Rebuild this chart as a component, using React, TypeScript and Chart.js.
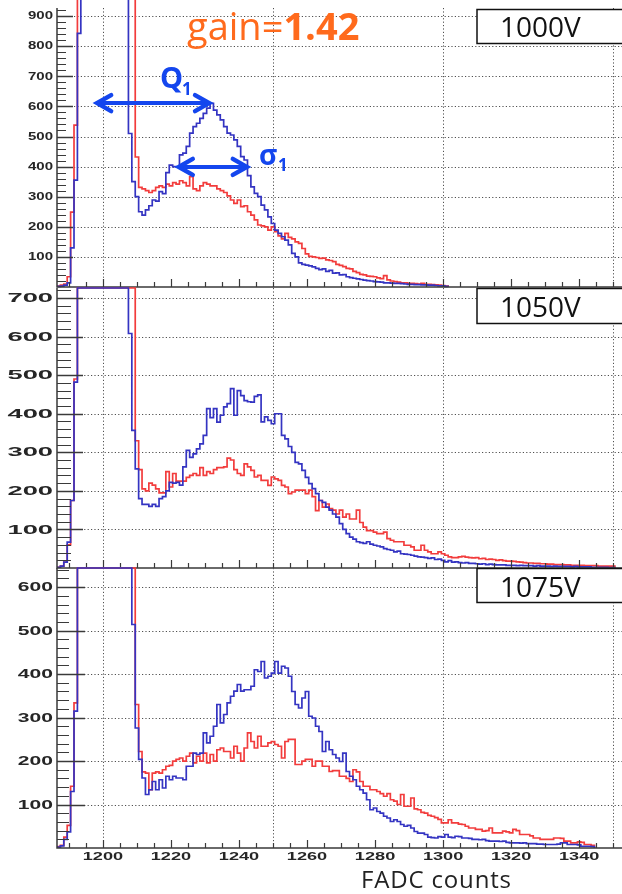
import React, { useEffect, useRef } from 'react';
import { Chart, registerables } from 'chart.js';

Chart.register(...registerables);

// ---------- data ----------
const BIN_START = 1187; // first FADC bin (1-count bins)
const X_MIN = 1186.5;
const X_MAX = 1352.6;
const X_GRID = [1200, 1250, 1300, 1350];
const X_TICK_LABELS = [1200, 1220, 1240, 1260, 1280, 1300, 1320, 1340];
const P = 3000; // pedestal bins, off scale

const PANEL_LABELS = ['1000V', '1050V', '1075V'];
const Y_LABELS_1000 = [100, 200, 300, 400, 500, 600, 700, 800, 900];
const Y_LABELS_1050 = [100, 200, 300, 400, 500, 600, 700];
const Y_LABELS_1075 = [100, 200, 300, 400, 500, 600];
const Y_MAX = [927, 726, 644];

const BLUE_1000 = [
  2, 3, 6, 14, 130, 355, 843,
  P, P, P, P, P, P, P, P, P, P, P, P, P, P,
  510, 350, 300, 250, 239, 256, 270, 289, 285, 317,
  310, 380, 405, 400, 399, 439, 445, 467, 511, 533,
  544, 560, 577, 594, 610, 588, 572, 555, 533, 511,
  505, 489, 467, 433, 422, 370, 333, 311, 300, 272,
  256, 233, 211, 189, 178, 167, 156, 140, 112, 100,
  80, 75, 73, 70, 67, 62, 58, 60, 52, 55,
  46, 47, 40, 41, 34, 31, 29, 27, 25, 23,
  21, 20, 18, 17, 16, 14, 14, 13, 12, 12,
  11, 10, 9, 9, 8, 8, 7, 7, 6, 6,
  5, 4, 4, 2,
];
const RED_1000 = [
  3, 6, 10, 34, 249, 538,
  P, P, P, P, P, P, P, P, P, P, P, P, P, P, P, P, P,
  432, 331, 326, 320, 314, 320, 331, 336, 331, 342,
  336, 347, 342, 353, 347, 336, 367, 326, 320, 336,
  347, 342, 336, 336, 326, 320, 314, 303, 289, 278,
  289, 267, 270, 250, 239, 223, 206, 203, 200, 189,
  200, 184, 170, 160, 178, 165, 160, 150, 145, 128,
  110, 102, 100, 98, 95, 96, 90, 88, 84, 75,
  72, 68, 62, 60, 52, 48, 42, 40, 36, 35,
  34, 30, 28, 38, 24, 20, 18, 16, 14, 14,
  12, 12, 11, 10, 12, 9, 9, 8, 7, 6,
  5, 3,
];
const BLUE_1050 = [
  2, 5, 15, 67, 175, 482,
  P, P, P, P, P, P, P, P, P, P, P, P, P, P, P,
  608, 357, 257, 180, 165, 165, 160, 165, 160, 180,
  185, 200, 222, 220, 222, 215, 262, 305, 287, 296,
  309, 322, 344, 413, 390, 413, 378, 396, 418, 426,
  465, 396, 460, 447, 434, 431, 430, 445, 449, 379,
  392, 383, 374, 400, 400, 344, 335, 315, 300, 274,
  270, 253, 235, 219, 206, 193, 175, 170, 158, 150,
  140, 132, 115, 100, 89, 80, 75, 68, 66, 64,
  68, 62, 59, 57, 55, 50, 48, 46, 42, 44,
  37, 36, 35, 33, 31, 29, 28, 27, 25, 26,
  22, 23, 20, 16, 19, 15, 16, 14, 13, 14,
  12, 12, 11, 10, 11, 9, 10, 9, 8, 8,
  8, 7, 7, 7, 6, 7, 6, 6, 6, 5,
  6, 5, 5, 5, 4, 5, 4, 4, 4, 4,
  3, 4, 3, 3, 3, 3, 2, 2, 2, 2,
  2, 1, 1,
];
const RED_1050 = [
  2, 5, 15, 60, 175, 490,
  P, P, P, P, P, P, P, P, P, P, P, P, P, P, P, P, P,
  330, 255, 205, 200, 220, 215, 205, 195, 195, 250,
  210, 245, 225, 225, 225, 235, 240, 245, 240, 260,
  240, 250, 245, 255, 260, 260, 262, 285, 280, 255,
  245, 240, 270, 262, 253, 236, 240, 227, 227, 214,
  236, 231, 227, 214, 210, 193, 197, 202, 202, 202,
  193, 202, 185, 149, 175, 158, 166, 154, 150, 140,
  150, 132, 140, 127, 127, 150, 118, 106, 97, 97,
  93, 89, 89, 93, 76, 72, 68, 68, 68, 59,
  59, 55, 46, 46, 59, 46, 42, 37, 37, 42,
  37, 33, 29, 27, 27, 29, 30, 28, 27, 26,
  27, 24, 25, 22, 23, 22, 20, 21, 19, 18,
  18, 17, 16, 15, 14, 13, 13, 12, 12, 11,
  11, 10, 10, 9, 9, 9, 8, 8, 7, 7,
  7, 7, 6, 6, 6, 6, 5, 5, 5, 5, 5,
];
const BLUE_1075 = [
  2, 5, 20, 37, 130, 315,
  P, P, P, P, P, P, P, P, P, P, P, P, P, P, P, P,
  514, 276, 204, 161, 123, 134, 153, 134, 157, 138,
  165, 157, 165, 161, 161, 157, 188, 188, 218, 215,
  218, 265, 242, 257, 280, 330, 288, 307, 334, 349,
  361, 376, 361, 364, 364, 372, 410, 406, 429, 391,
  395, 402, 429, 402, 418, 414, 395, 360, 330, 322,
  345, 360, 303, 299, 280, 268, 222, 245, 226, 215,
  207, 199, 218, 176, 165, 157, 142, 134, 126, 111,
  88, 92, 84, 80, 73, 69, 61, 65, 61, 54,
  50, 52, 46, 38, 34, 34, 31, 25, 24, 23,
  26, 25, 31, 25, 24, 27, 26, 23, 23, 22,
  20, 20, 19, 20, 17, 16, 16, 16, 15, 16,
  13, 12, 12, 12, 11, 12, 10, 10, 10, 9,
  9, 8, 8, 8, 8, 9, 12, 12, 8, 8,
  8, 7, 4, 4, 4, 3,
];
const RED_1075 = [
  3, 6, 25, 52, 142, 334,
  P, P, P, P, P, P, P, P, P, P, P, P, P, P, P, P, P,
  330, 222, 175, 172, 134, 172, 175, 172, 180, 188,
  190, 200, 204, 207, 200, 211, 218, 196, 211, 200,
  218, 196, 215, 200, 226, 230, 222, 222, 207, 234,
  218, 200, 230, 265, 245, 230, 257, 234, 234, 242,
  245, 238, 234, 207, 245, 250, 250, 192, 192, 200,
  204, 204, 188, 200, 200, 188, 188, 176, 178, 178,
  165, 165, 160, 153, 180, 175, 153, 142, 142, 134,
  134, 130, 125, 119, 125, 111, 108, 100, 123, 96,
  96, 115, 90, 88, 82, 80, 75, 73, 70, 66,
  58, 58, 65, 58, 58, 55, 54, 50, 46, 46,
  43, 43, 39, 40, 46, 35, 35, 35, 39, 37,
  35, 43, 40, 31, 31, 31, 28, 23, 23, 20,
  20, 20, 20, 23, 23, 22, 16, 16, 12, 12,
  14, 13, 8, 8, 6,
];

// annotation arrows (data coordinates of panel 1)
const Q1_ARROW = { from: 1198, to: 1231.5, at: 611 };
const SIGMA1_ARROW = { from: 1222, to: 1242.6, at: 399 };

// ---------- styles ----------
const BLUE = '#3434c2';
const RED = '#f23c3c';
const GRID = '#505050';
const AXIS = '#3a3a3a';
const LABEL = '#262626';
const ANNOT = '#1446ee';
const ORANGE = '#ff6a1c';

function toSteps(values: number[], clampMax: number | null) {
  const pts = values.map((v, i) => ({
    x: BIN_START + i - 0.5,
    y: clampMax == null ? v : Math.min(v, clampMax),
  }));
  pts.push({ x: BIN_START + values.length - 0.5, y: 0 });
  return pts;
}

function makeFramePlugin(cfg: any) {
  return {
    id: 'rootFrame',
    beforeDatasetsDraw(chart: any) {
      const { ctx, chartArea: a } = chart;
      const x = chart.scales.x;
      const y = chart.scales.y;
      ctx.save();
      ctx.strokeStyle = GRID;
      ctx.lineWidth = 1;
      ctx.setLineDash([1.2, 2.2]);
      ctx.beginPath();
      for (const v of cfg.yLabels) {
        const py = Math.round(y.getPixelForValue(v)) + 0.5;
        ctx.moveTo(a.left, py);
        ctx.lineTo(a.right, py);
      }
      for (const v of X_GRID) {
        const px = Math.round(x.getPixelForValue(v)) + 0.5;
        ctx.moveTo(px, a.top);
        ctx.lineTo(px, a.bottom);
      }
      ctx.stroke();
      ctx.restore();
    },
    afterDatasetsDraw(chart: any) {
      const { ctx, chartArea: a } = chart;
      const x = chart.scales.x;
      const y = chart.scales.y;
      ctx.save();
      ctx.setLineDash([]);
      // axis lines
      ctx.strokeStyle = AXIS;
      ctx.lineWidth = 1.5;
      ctx.beginPath();
      ctx.moveTo(a.left, a.top);
      ctx.lineTo(a.left, a.bottom);
      ctx.lineTo(a.right, a.bottom);
      ctx.stroke();
      // y ticks (inside)
      for (let v = 20; v < cfg.yMax; v += 20) {
        const major = v % 100 === 0;
        const py = Math.round(y.getPixelForValue(v)) + 0.5;
        ctx.lineWidth = major ? 1.5 : 1;
        ctx.beginPath();
        ctx.moveTo(a.left, py);
        ctx.lineTo(a.left + (major ? cfg.majorLen : cfg.minorLen), py);
        ctx.stroke();
      }
      // x ticks (inside, pointing up)
      for (let v = 1190; v <= 1350; v += 5) {
        const major = v % 20 === 0;
        const px = Math.round(x.getPixelForValue(v)) + 0.5;
        ctx.lineWidth = 1.2;
        ctx.beginPath();
        ctx.moveTo(px, a.bottom);
        ctx.lineTo(px, a.bottom - (major ? 8 : 5));
        ctx.stroke();
      }
      // y labels (stretched ROOT-like font)
      ctx.fillStyle = LABEL;
      ctx.font = `bold ${cfg.labelSize}px "Liberation Sans", Arial, sans-serif`;
      ctx.textAlign = 'right';
      ctx.textBaseline = 'middle';
      for (const v of cfg.yLabels) {
        const py = y.getPixelForValue(v);
        ctx.save();
        ctx.translate(a.left - 4, py + 0.5);
        ctx.scale(cfg.labelStretch, 1);
        ctx.fillText(String(v), 0, 0);
        ctx.restore();
      }
      if (cfg.xLabels) {
        ctx.font = 'bold 11px "Liberation Sans", Arial, sans-serif';
        ctx.textAlign = 'center';
        for (const v of X_TICK_LABELS) {
          const px = x.getPixelForValue(v);
          ctx.save();
          ctx.translate(px, a.bottom + 9);
          ctx.scale(1.65, 1);
          ctx.fillText(String(v), 0, 0);
          ctx.restore();
        }
      }
      if (cfg.annotate) {
        ctx.strokeStyle = ANNOT;
        ctx.lineCap = 'round';
        ctx.lineJoin = 'miter';
        for (const ar of [Q1_ARROW, SIGMA1_ARROW]) {
          const x1 = x.getPixelForValue(ar.from);
          const x2 = x.getPixelForValue(ar.to);
          const yy = y.getPixelForValue(ar.at);
          ctx.lineWidth = 4;
          ctx.beginPath();
          ctx.moveTo(x1 + 3, yy);
          ctx.lineTo(x2 - 3, yy);
          ctx.stroke();
          ctx.lineWidth = 4.5;
          ctx.beginPath();
          ctx.moveTo(x1 + 15, yy - 8);
          ctx.lineTo(x1 + 1, yy);
          ctx.lineTo(x1 + 15, yy + 8);
          ctx.moveTo(x2 - 15, yy - 8);
          ctx.lineTo(x2 - 1, yy);
          ctx.lineTo(x2 - 15, yy + 8);
          ctx.stroke();
        }
      }
      ctx.restore();
    },
  };
}

type PanelProps = {
  top: number;
  height: number;
  padTop: number;
  xAxisHeight: number;
  blue: number[];
  red: number[];
  clampTop: boolean;
  cfg: any;
};

function Panel({ top, height, padTop, xAxisHeight, blue, red, clampTop, cfg }: PanelProps) {
  const ref = useRef<HTMLCanvasElement>(null);
  useEffect(() => {
    const clamp = clampTop ? cfg.yMax : null;
    const clip = { left: 0, top: clampTop ? 2 : 8, right: 0, bottom: 2 };
    const chart = new Chart(ref.current as HTMLCanvasElement, {
      type: 'line',
      data: {
        datasets: [
          {
            data: toSteps(blue, clamp),
            borderColor: BLUE,
            borderWidth: 1.7,
            stepped: true,
            pointRadius: 0,
            fill: false,
            clip,
            order: 0,
          },
          {
            data: toSteps(red, clamp),
            borderColor: RED,
            borderWidth: 1.7,
            stepped: true,
            pointRadius: 0,
            fill: false,
            clip,
            order: 1,
          },
        ],
      },
      options: {
        animation: false,
        responsive: false,
        maintainAspectRatio: false,
        events: [],
        layout: { padding: { top: padTop, left: 0, right: 0, bottom: 0 } },
        scales: {
          x: {
            type: 'linear',
            min: X_MIN,
            max: X_MAX,
            grid: { display: false },
            border: { display: false },
            ticks: { display: false },
            afterFit: (s: any) => {
              s.height = xAxisHeight;
            },
          },
          y: {
            type: 'linear',
            min: 0,
            max: cfg.yMax,
            grid: { display: false },
            border: { display: false },
            ticks: { display: false },
            afterFit: (s: any) => {
              s.width = 57;
            },
          },
        },
        plugins: { legend: { display: false }, tooltip: { enabled: false } },
      },
      plugins: [makeFramePlugin(cfg)],
    } as any);
    return () => chart.destroy();
  }, []);
  return (
    <canvas
      ref={ref}
      width={622}
      height={height}
      style={{ position: 'absolute', left: 0, top, width: 622, height }}
    />
  );
}

export default function App() {
  const font = "'Open Sans', 'DejaVu Sans', sans-serif";
  const boxes = [
    { y: 9.5, h: 34, base: 37 },
    { y: 288.5, h: 35, base: 317 },
    { y: 568.5, h: 34, base: 597 },
  ];
  return (
    <div
      style={{
        position: 'absolute',
        left: 0,
        top: 0,
        width: 622,
        height: 894,
        overflow: 'hidden',
        background: '#ffffff',
      }}
    >
      <Panel
        top={0}
        height={292}
        padTop={8}
        xAxisHeight={5}
        blue={BLUE_1000}
        red={RED_1000}
        clampTop={false}
        cfg={{ yLabels: Y_LABELS_1000, yMax: Y_MAX[0], majorLen: 16, minorLen: 9, labelSize: 10, labelStretch: 1.5, xLabels: false, annotate: true }}
      />
      <Panel
        top={284}
        height={288}
        padTop={4}
        xAxisHeight={4}
        blue={BLUE_1050}
        red={RED_1050}
        clampTop={true}
        cfg={{ yLabels: Y_LABELS_1050, yMax: Y_MAX[1], majorLen: 26, minorLen: 14, labelSize: 13, labelStretch: 2.1, xLabels: false, annotate: false }}
      />
      <Panel
        top={564}
        height={330}
        padTop={4}
        xAxisHeight={46}
        blue={BLUE_1075}
        red={RED_1075}
        clampTop={true}
        cfg={{ yLabels: Y_LABELS_1075, yMax: Y_MAX[2], majorLen: 28, minorLen: 12, labelSize: 13, labelStretch: 1.62, xLabels: true, annotate: false }}
      />
      <svg
        width={622}
        height={894}
        style={{ position: 'absolute', left: 0, top: 0, pointerEvents: 'none' }}
      >
        <text x={187} y={40} fill={ORANGE} fontFamily={font} fontSize={38}>
          gain=<tspan fontWeight={700}>1.42</tspan>
        </text>
        {boxes.map((b, i) => (
          <g key={PANEL_LABELS[i]}>
            <rect x={477} y={b.y} width={160} height={b.h} fill="#ffffff" stroke="#111111" strokeWidth={1.5} />
            <text x={500} y={b.base} fill="#111111" fontFamily={font} fontSize={28}>
              {PANEL_LABELS[i]}
            </text>
          </g>
        ))}
        <text x={160} y={88} fill={ANNOT} fontFamily={font} fontWeight={700} fontSize={29}>Q</text>
        <text x={182} y={95} fill={ANNOT} fontFamily={font} fontWeight={700} fontSize={17}>1</text>
        <text x={259} y={165} fill={ANNOT} fontFamily={font} fontWeight={700} fontSize={28}>σ</text>
        <text x={278} y={171} fill={ANNOT} fontFamily={font} fontWeight={700} fontSize={17}>1</text>
        <text x={361} y={888} fill="#222222" fontFamily={font} fontSize={24} textLength={150} lengthAdjust="spacing">
          FADC counts
        </text>
      </svg>
    </div>
  );
}
